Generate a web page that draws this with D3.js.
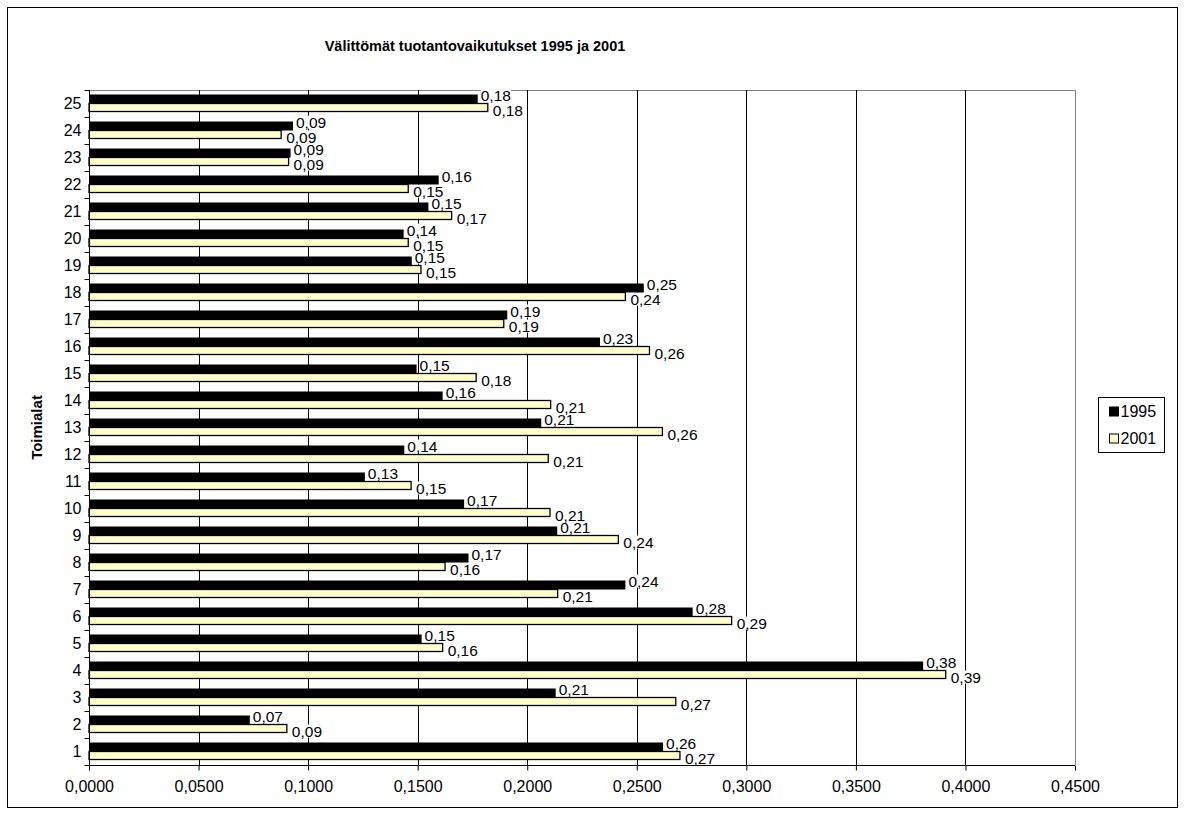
<!DOCTYPE html>
<html>
<head>
<meta charset="utf-8">
<script src="https://cdn.jsdelivr.net/npm/d3@7"></script>
<style>
  body { margin: 0; background: #fff; }
  text { font-family: "Liberation Sans", Arial, sans-serif; }
</style>
</head>
<body>
<div id="content"></div>
<script>
var categories = ["1","2","3","4","5","6","7","8","9","10","11","12","13","14","15","16","17","18","19","20","21","22","23","24","25"];
var v1995 = [0.262, 0.0734, 0.213, 0.3807, 0.1518, 0.2755, 0.2448, 0.1732, 0.2137, 0.1712, 0.1259, 0.1439, 0.2064,
             0.1614, 0.1495, 0.2332, 0.1909, 0.2532, 0.1473, 0.1436, 0.1549, 0.1596, 0.0920, 0.0931, 0.1774];
var v2001 = [0.2697, 0.0903, 0.2678, 0.391, 0.1614, 0.2933, 0.2139, 0.1625, 0.2416, 0.2104, 0.147, 0.2096, 0.2617,
             0.2107, 0.1767, 0.2558, 0.1893, 0.2448, 0.1515, 0.1457, 0.1655, 0.1457, 0.0911, 0.0877, 0.182];
var xTicks = [0, 0.05, 0.1, 0.15, 0.2, 0.25, 0.3, 0.35, 0.4, 0.45];
var seriesNames = ["1995", "2001"];
var title = "Välittömät tuotantovaikutukset 1995 ja 2001";
var yTitle = "Toimialat";

var width = 1185, height = 816;
var plotLeft = 89, plotRight = 1075, plotTop = 90, plotBottom = 765;

var svg = d3.select("#content").append("svg")
              .attr("width", width)
              .attr("height", height);

// outer chart border
svg.append("rect")
    .attr("x", 7.5).attr("y", 7.5)
    .attr("width", 1170).attr("height", 800)
    .attr("fill", "#fff").attr("stroke", "#000");

var x = d3.scaleLinear().domain([0, 0.45]).range([plotLeft, plotRight]);
var y = d3.scaleBand().domain(categories.slice().reverse()).range([plotTop, plotBottom]);

// plot area frame (top + right in grey)
svg.append("path")
    .attr("d", "M" + plotLeft + "," + (plotTop + 0.5) + "H" + (plotRight + 0.5) + "V" + plotBottom)
    .attr("fill", "none").attr("stroke", "#808080");

// vertical gridlines
svg.append("g").selectAll("line")
    .data(xTicks.slice(1, -1))
    .enter().append("line")
      .attr("x1", function(d) { return Math.round(x(d)) + 0.5; })
      .attr("x2", function(d) { return Math.round(x(d)) + 0.5; })
      .attr("y1", plotTop).attr("y2", plotBottom)
      .attr("stroke", "#000");

function fmt(v) { return v.toFixed(2).replace(".", ","); }

var labelData = [];
categories.forEach(function(c, i) {
  var b = y(c);
  labelData.push({ x: x(v1995[i]) + 3, y: b + 9 - 4, t: fmt(v1995[i]) });
  labelData.push({ x: x(v2001[i]) + 5, y: b + 18 + 2, t: fmt(v2001[i]) });
});

var boxLayer = svg.append("g");   // white label backgrounds, filled in later

var bars = svg.append("g");
bars.selectAll("rect.b1995")
    .data(categories)
    .enter().append("rect")
      .attr("class", "b1995")
      .attr("x", plotLeft)
      .attr("y", function(c) { return y(c) + 4.5; })
      .attr("width", function(c, i) { return x(v1995[i]) - plotLeft; })
      .attr("height", 9)
      .attr("fill", "#000");
bars.selectAll("rect.b2001")
    .data(categories)
    .enter().append("rect")
      .attr("class", "b2001")
      .attr("x", plotLeft)
      .attr("y", function(c) { return y(c) + 13.5; })
      .attr("width", function(c, i) { return x(v2001[i]) - plotLeft; })
      .attr("height", 8)
      .attr("fill", "#ffffcc")
      .attr("stroke", "#000")
      .attr("stroke-width", 1.3);

// value labels
var labels = svg.append("g").selectAll("text")
    .data(labelData)
    .enter().append("text")
      .attr("x", function(d) { return d.x; })
      .attr("y", function(d) { return d.y; })
      .attr("dy", "0.36em")
      .attr("font-size", 15.5)
      .text(function(d) { return d.t; });

labels.each(function(d) {
  var bb = this.getBBox();
  boxLayer.append("rect")
      .attr("x", bb.x).attr("y", bb.y + 2)
      .attr("width", bb.width).attr("height", bb.height - 4)
      .attr("fill", "#fff");
});

// x axis
var xAxis = svg.append("g")
    .attr("transform", "translate(0," + (plotBottom + 0.5) + ")")
    .call(d3.axisBottom(x).tickValues(xTicks).tickSizeOuter(0).tickSize(5).tickPadding(10)
          .tickFormat(function(d) { return d.toFixed(4).replace(".", ","); }));
xAxis.selectAll("text").attr("font-size", 16).attr("fill", "#000")
     .attr("font-family", "Liberation Sans, Arial, sans-serif");
xAxis.select(".domain").attr("d", "M" + plotLeft + ",0H" + plotRight);

// y axis
var yAxis = svg.append("g")
    .attr("transform", "translate(" + (plotLeft + 0.5) + ",0)")
    .call(d3.axisLeft(y).tickSize(0).tickPadding(8));
yAxis.selectAll("text").attr("font-size", 16).attr("fill", "#000")
     .attr("font-family", "Liberation Sans, Arial, sans-serif");
yAxis.select(".domain").attr("d", "M0," + plotTop + "V" + plotBottom);
yAxis.selectAll("line.bound")
    .data(categories.concat(["end"]))
    .enter().append("line")
      .attr("class", "bound")
      .attr("x1", -5).attr("x2", 0)
      .attr("y1", function(c) { return Math.round(c === "end" ? plotBottom : y(c)) + 0.5; })
      .attr("y2", function(c) { return Math.round(c === "end" ? plotBottom : y(c)) + 0.5; })
      .attr("stroke", "#000");

// titles
svg.append("text")
    .attr("x", 475).attr("y", 51)
    .attr("text-anchor", "middle")
    .attr("font-size", 14.5).attr("font-weight", "bold")
    .text(title);
svg.append("text")
    .attr("transform", "translate(42," + ((plotTop + plotBottom) / 2) + ") rotate(-90)")
    .attr("text-anchor", "middle")
    .attr("font-size", 15).attr("font-weight", "bold")
    .text(yTitle);

// legend
var legend = svg.append("g").attr("transform", "translate(1098.5,397.5)");
legend.append("rect")
    .attr("width", 66).attr("height", 55)
    .attr("fill", "#fff").attr("stroke", "#000");
var items = legend.selectAll("g.item")
    .data(seriesNames)
    .enter().append("g")
      .attr("class", "item")
      .attr("transform", function(d, i) { return "translate(11," + (14 + i * 27) + ")"; });
items.append("rect")
    .attr("x", 0).attr("y", -4.5)
    .attr("width", 9).attr("height", 9)
    .attr("fill", function(d, i) { return i === 0 ? "#000" : "#ffffcc"; })
    .attr("stroke", "#000");
items.append("text")
    .attr("x", 11).attr("dy", "0.36em")
    .attr("font-size", 16)
    .text(function(d) { return d; });
</script>
</body>
</html>
